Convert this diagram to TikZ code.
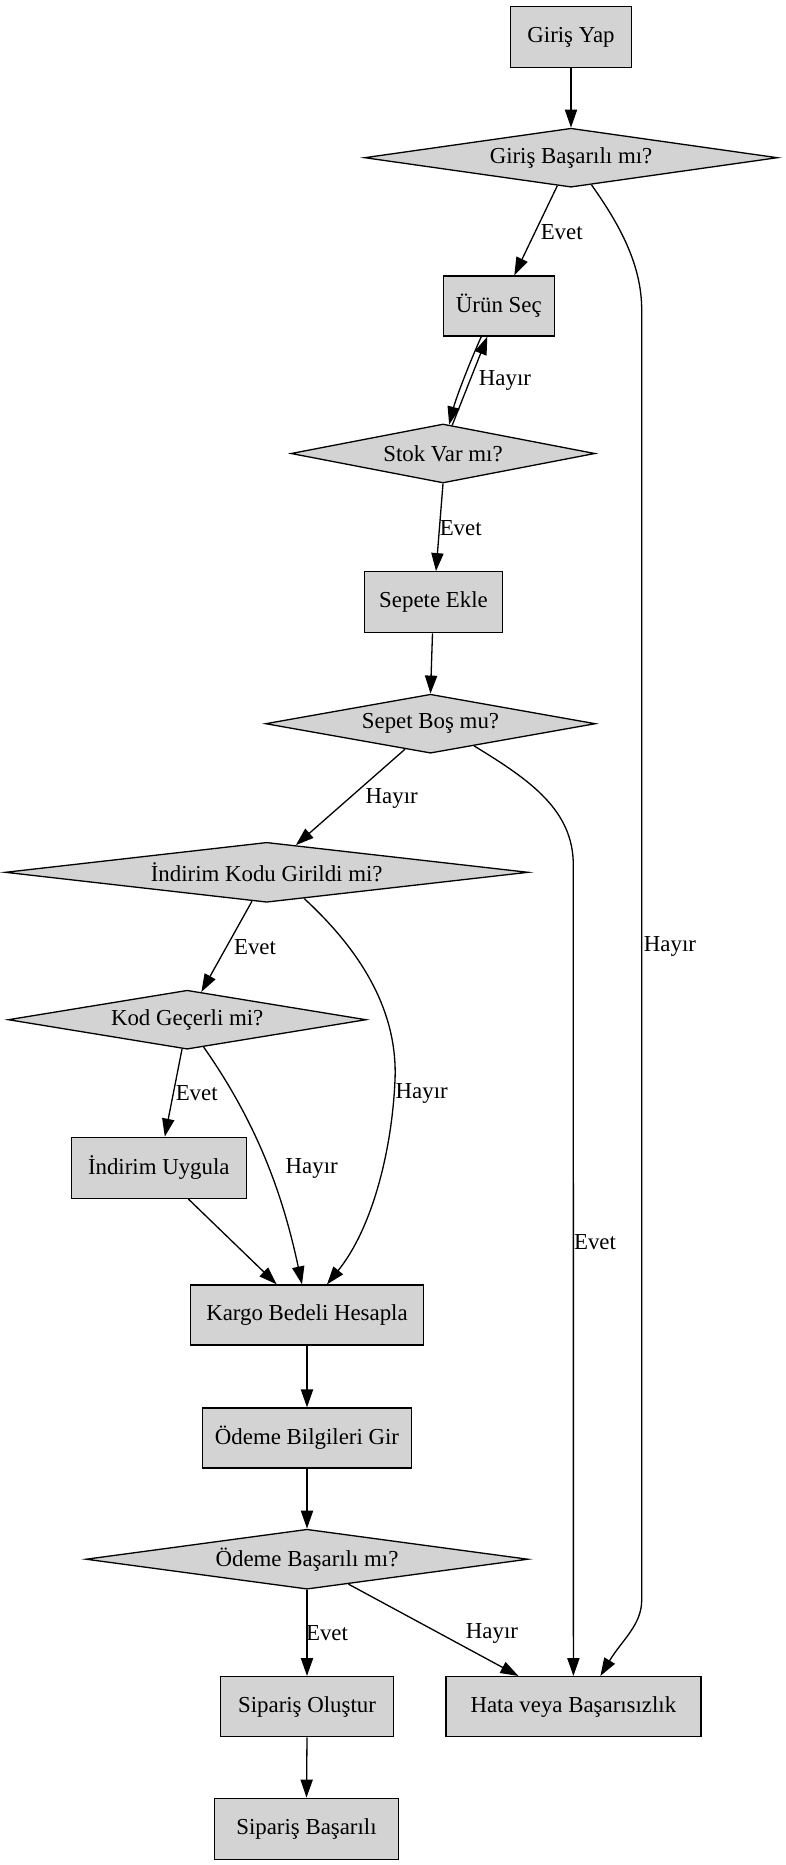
\documentclass[tikz,border=0pt]{standalone}
\usepackage{fontspec}
\setmainfont{Liberation Serif}
\usetikzlibrary{shapes.geometric,arrows.meta,calc}
\definecolor{nodefill}{HTML}{D3D3D3}
\def\pu{0.6125pt}
\begin{document}
\begin{tikzpicture}[x=0.6125pt,y=-0.6125pt,
  every node/.style={font=\fontsize{14}{16}\selectfont},
  box/.style 2 args={draw, fill=nodefill, rectangle, line width=0.8pt, inner sep=0pt,
    minimum width={#1*\pu}, minimum height={#2*\pu}},
  dia/.style 2 args={draw, fill=nodefill, diamond, line width=0.8pt, inner sep=0pt,
    minimum width={#1*\pu}, minimum height={#2*\pu}},
  edge/.style={draw, line width=0.8pt, -{Triangle[length=11pt,width=7.5pt]}},
  lbl/.style={inner sep=0pt}]
\useasboundingbox (0,0) rectangle (785,1865);

% nodes
\node[box={121}{61}] (gy) at (571,37) {Giriş Yap};
\node[dia={413}{59}, aspect=7] (gb) at (571,157.7) {Giriş Başarılı mı?};
\node[box={111}{60}] (urun) at (498.8,306) {Ürün Seç};
\node[dia={304}{59}, aspect=5.2] (stok) at (443,453.5) {Stok Var mı?};
\node[box={138.5}{61}] (sepete) at (433.5,602.2) {Sepete Ekle};
\node[dia={330}{59}, aspect=5.6] (sepet) at (430.5,723.7) {Sepet Boş mu?};
\node[dia={523}{60}, aspect=8.7] (indkod) at (266.7,872.3) {İndirim Kodu Girildi mi?};
\node[dia={358}{59}, aspect=6] (kod) at (187.2,1019.7) {Kod Geçerli mi?};
\node[box={175}{61}] (uygula) at (158.8,1167.8) {İndirim Uygula};
\node[box={233}{60}] (kargo) at (307,1315) {Kargo Bedeli Hesapla};
\node[box={209}{60}] (odbilgi) at (307,1438) {Ödeme Bilgileri Gir};
\node[dia={442}{60}, aspect=7.3] (odbas) at (307,1559.2) {Ödeme Başarılı mı?};
\node[box={173}{60}] (sipol) at (307,1706.6) {Sipariş Oluştur};
\node[box={255}{60}] (hata) at (573.4,1706.6) {Hata veya Başarısızlık};
\node[box={184}{61}] (sipbas) at (306.5,1828.7) {Sipariş Başarılı};

% edges
\draw[edge] (gy.south) -- (gb.north);
\draw[edge] (gb.-116.2) -- ($(urun.north)+(15.5,0)$);
\node[lbl] (l1) at (561.7,231.7) {Evet};
\draw[edge] (gb.-53.8) .. controls (620,225) and (641.7,265) .. (641.7,310)
  -- (641.7,1600) .. controls (641.7,1625) and (622,1640) .. ($(hata.north)+(27,0)$);
\node[lbl] (l2) at (670,946) {Hayır};
\draw[edge] ($(urun.south)+(-17.5,0)$) .. controls (470,361.5) and (456,398) .. (stok.78.9);
\draw[edge] (stok.72.5) -- ($(urun.south)+(-11.5,0)$);
\node[lbl] (l3) at (505,380) {Hayır};
\draw[edge] (stok.south) -- ($(sepete.north)+(2.5,0)$);
\node[lbl] (l4) at (460.7,528.3) {Evet};
\draw[edge] ($(sepete.south)+(-1,0)$) -- (sepet.north);
\draw[edge] (sepet.-135.8) -- (indkod.43.3);
\node[lbl] (l5) at (391.7,798.3) {Hayır};
\draw[edge] (sepet.-27.8) .. controls (530,780) and (573.3,810) .. (573.3,865) -- (hata.north);
\node[lbl] (l6) at (595,1241.7) {Evet};
\draw[edge] (indkod.-117.8) -- (kod.63);
\node[lbl] (l7) at (255,946.7) {Evet};
\draw[edge] (indkod.-35.4) .. controls (360,950) and (398,1010) .. (395,1080)
  .. controls (392,1150) and (372.5,1228) .. ($(kargo.north)+(20,0)$);
\node[lbl] (l8) at (421.7,1093.3) {Hayır};
\draw[edge] (kod.-100.5) -- ($(uygula.north)+(6,0)$);
\node[lbl] (l9) at (196.7,1093.3) {Evet};
\draw[edge] (kod.-59.6) .. controls (262,1130) and (285,1205) .. ($(kargo.north)+(-5,0)$);
\node[lbl] (l10) at (311.7,1168.3) {Hayır};
\draw[edge] ($(uygula.south)+(29.5,0)$) -- ($(kargo.north)+(-30.3,0)$);
\draw[edge] (kargo.south) -- (odbilgi.north);
\draw[edge] (odbilgi.south) -- (odbas.north);
\draw[edge] (odbas.south) -- (sipol.north);
\node[lbl] (l11) at (327,1633) {Evet};
\draw[edge] (odbas.-31.6) -- ($(hata.north)+(-55,0)$);
\node[lbl] (l12) at (492,1633) {Hayır};
\draw[edge] (sipol.south) -- (sipbas.north);
\end{tikzpicture}
\end{document}
